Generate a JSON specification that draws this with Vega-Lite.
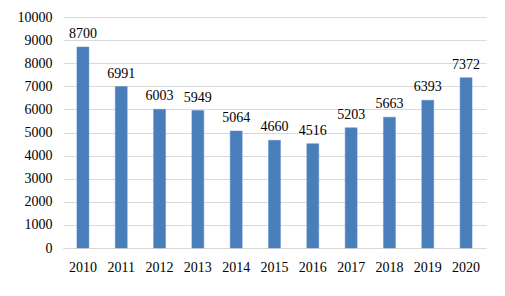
{
  "$schema": "https://vega.github.io/schema/vega-lite/v6.json",
  "autosize": {"type": "none"},
  "width": 423,
  "height": 231,
  "padding": {"left": 63, "top": 17, "right": 19, "bottom": 48},
  "background": "white",
  "config": {
    "view": {"stroke": null},
    "font": "Times New Roman, Liberation Serif, serif"
  },
  "data": {
    "values": [
      {"year": "2010", "value": 8700},
      {"year": "2011", "value": 6991},
      {"year": "2012", "value": 6003},
      {"year": "2013", "value": 5949},
      {"year": "2014", "value": 5064},
      {"year": "2015", "value": 4660},
      {"year": "2016", "value": 4516},
      {"year": "2017", "value": 5203},
      {"year": "2018", "value": 5663},
      {"year": "2019", "value": 6393},
      {"year": "2020", "value": 7372}
    ]
  },
  "encoding": {
    "x": {
      "field": "year",
      "type": "nominal",
      "scale": {"paddingInner": 0.688, "paddingOuter": 0.364},
      "axis": {
        "title": null,
        "labelAngle": 0,
        "ticks": false,
        "domain": true,
        "domainColor": "#d9d9d9",
        "labelFont": "Times New Roman, Liberation Serif, serif",
        "labelFontSize": 14,
        "labelColor": "#000000",
        "labelPadding": 12
      }
    },
    "y": {
      "field": "value",
      "type": "quantitative",
      "scale": {"domain": [0, 10000], "nice": false},
      "axis": {
        "title": null,
        "format": "d",
        "values": [0, 1000, 2000, 3000, 4000, 5000, 6000, 7000, 8000, 9000, 10000],
        "ticks": false,
        "domain": false,
        "gridColor": "#d9d9d9",
        "labelFont": "Times New Roman, Liberation Serif, serif",
        "labelFontSize": 14,
        "labelColor": "#000000",
        "labelPadding": 11
      }
    }
  },
  "layer": [
    {"mark": {"type": "bar", "color": "#4a7ebb", "stroke": "#5b8ccb", "strokeWidth": 0.5}},
    {
      "mark": {"type": "text", "baseline": "alphabetic", "dy": -9, "font": "Times New Roman, Liberation Serif, serif", "fontSize": 14, "color": "#000000"},
      "encoding": {"text": {"field": "value", "type": "quantitative", "format": "d"}}
    }
  ]
}
